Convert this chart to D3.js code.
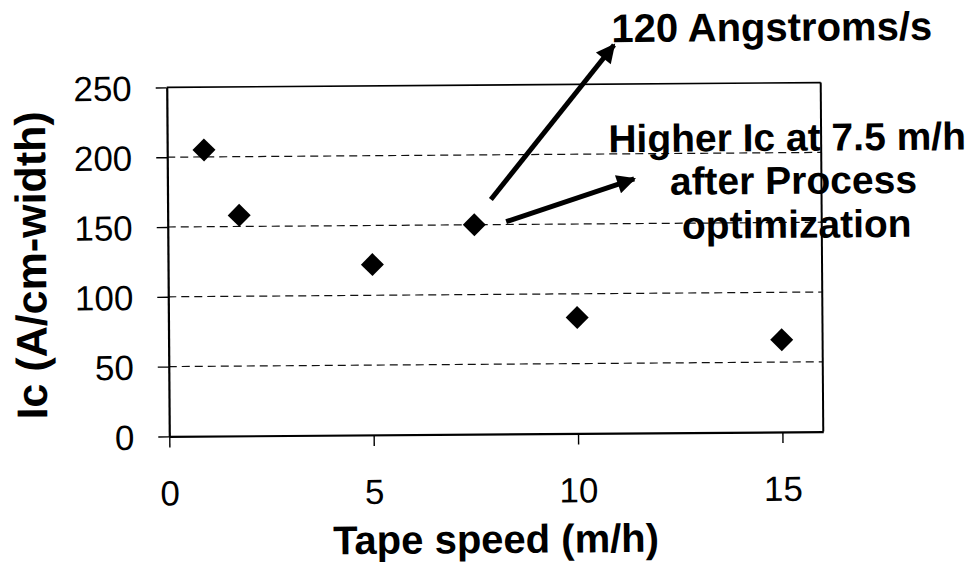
<!DOCTYPE html>
<html>
<head>
<meta charset="utf-8">
<script src="https://cdn.jsdelivr.net/npm/d3@7"></script>
<style>
  html, body { margin: 0; padding: 0; background: #fff; }
  svg { display: block; }
  text { font-family: "Liberation Sans", Arial, sans-serif; fill: #000; }
</style>
</head>
<body>
<svg id="chart" width="979" height="564"></svg>
<script>
// ---- data ----
const speeds = [0.9, 1.75, 5, 7.5, 10, 15];          // Tape speed (m/h)
const icValues = [205, 158, 122, 150, 83, 66];       // Ic (A/cm-width)
const xTicks = [0, 5, 10, 15];
const yTicks = [0, 50, 100, 150, 200, 250];
const xDomain = [0, 16];
const yDomain = [0, 250];
const xTitle = "Tape speed (m/h)";
const yTitle = "Ic (A/cm-width)";
const note1 = "120 Angstroms/s";
const note2Lines = ["Higher Ic at 7.5 m/h", "after Process", "optimization"];
// arrows in data units: [x1, y1, x2, y2]
const arrows = [
  [7.91, 168, 10.95, 278],
  [8.28, 152, 11.42, 182]
];

// ---- layout ----
const svg = d3.select("#chart");
const L = 168, R = 822, T = 85, B = 434;
const x = d3.scaleLinear().domain(xDomain).range([L, R]);
const y = d3.scaleLinear().domain(yDomain).range([B, T]);

const g = svg.append("g").attr("transform", "rotate(-0.42, 495, 260)");

// gridlines (dashed)
g.append("g").selectAll("line")
  .data(yTicks.filter(d => d > 0 && d < 250))
  .join("line")
  .attr("x1", L).attr("x2", R)
  .attr("y1", d => y(d)).attr("y2", d => y(d))
  .attr("stroke", "#111").attr("stroke-width", 1.2)
  .attr("stroke-dasharray", "8,5");

// top & right border
g.append("line").attr("x1", L).attr("x2", R).attr("y1", y(250)).attr("y2", y(250))
  .attr("stroke", "#000").attr("stroke-width", 1.6);
g.append("line").attr("x1", R).attr("x2", R).attr("y1", y(250)).attr("y2", B)
  .attr("stroke", "#000").attr("stroke-width", 2);

// axes
const yAxis = g.append("g").attr("transform", `translate(${L},0)`)
  .call(d3.axisLeft(y).tickValues(yTicks).tickSize(11).tickSizeOuter(0));
yAxis.select(".domain").attr("stroke", "#000").attr("stroke-width", 2.2);
yAxis.selectAll(".tick line").attr("stroke", "#000").attr("stroke-width", 1.4);
yAxis.selectAll(".tick text")
  .attr("x", -35).attr("dy", "0.36em")
  .style("font-size", "35px").style("font-family", "'Liberation Sans', Arial, sans-serif")
  .attr("fill", "#000");

const xAxis = g.append("g").attr("transform", `translate(0,${B})`)
  .call(d3.axisBottom(x).tickValues(xTicks).tickSize(11).tickSizeOuter(0));
xAxis.select(".domain").attr("stroke", "#000").attr("stroke-width", 2.2);
xAxis.selectAll(".tick line").attr("stroke", "#000").attr("stroke-width", 1.4);
xAxis.selectAll(".tick text")
  .attr("y", 69).attr("dy", 0)
  .style("font-size", "35px").style("font-family", "'Liberation Sans', Arial, sans-serif")
  .attr("fill", "#000");

// axis titles
g.append("text").attr("x", 494).attr("y", 553)
  .attr("text-anchor", "middle").style("font-size", "40px").style("font-weight", "bold")
  .text(xTitle);
g.append("text").attr("transform", "translate(46,262) rotate(-90)")
  .attr("text-anchor", "middle").style("font-size", "43px").style("font-weight", "bold")
  .text(yTitle);

// diamonds
const h = 11.5;
const diamond = `M0,${-h}L${h},0L0,${h}L${-h},0Z`;
g.append("g").selectAll("path")
  .data(speeds.map((s, i) => [s, icValues[i]]))
  .join("path")
  .attr("d", diamond)
  .attr("transform", d => `translate(${x(d[0])},${y(d[1])})`)
  .attr("fill", "#000");

// arrows
const defs = svg.append("defs");
defs.append("marker").attr("id", "ah")
  .attr("viewBox", "0 0 10 10").attr("refX", 9).attr("refY", 5)
  .attr("markerWidth", 4.8).attr("markerHeight", 3.8)
  .attr("markerUnits", "strokeWidth").attr("orient", "auto")
  .append("path").attr("d", "M0,0L10,5L0,10Z").attr("fill", "#000");
g.append("g").selectAll("line")
  .data(arrows).join("line")
  .attr("x1", d => x(d[0])).attr("y1", d => y(d[1]))
  .attr("x2", d => x(d[2])).attr("y2", d => y(d[3]))
  .attr("stroke", "#000").attr("stroke-width", 5)
  .attr("marker-end", "url(#ah)");

// annotations
g.append("text").attr("x", 613).attr("y", 43)
  .style("font-size", "40px").style("font-weight", "bold").text(note1);
const noteX = [788, 794, 797];
const noteY = [153, 196, 240];
g.append("g").selectAll("text")
  .data(note2Lines).join("text")
  .attr("x", (d, i) => noteX[i]).attr("y", (d, i) => noteY[i])
  .attr("text-anchor", "middle")
  .style("font-size", "39px").style("font-weight", "bold")
  .text(d => d);
</script>
</body>
</html>
